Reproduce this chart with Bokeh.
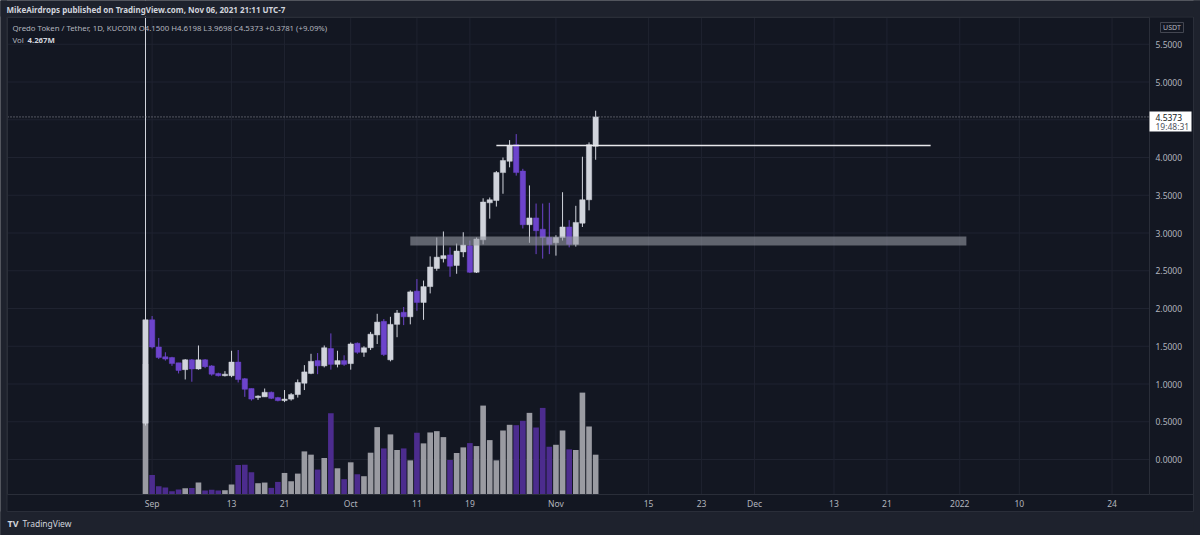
from bokeh.plotting import figure
from bokeh.models import ColumnDataSource, Range1d, Label
from bokeh.embed import file_html
from bokeh.resources import INLINE
from bokeh.core.properties import value

# ---------------- data (QRDO/USDT daily, 2021-08-31 .. 2021-11-07) ----------------
opens = [0.48, 1.85, 1.49, 1.36, 1.35, 1.28, 1.19, 1.32, 1.20, 1.32,
         1.24, 1.14, 1.11, 1.11, 1.29, 1.07, 0.94, 0.82, 0.83, 0.89,
         0.82, 0.78, 0.80, 0.86, 1.01, 1.14, 1.31, 1.24, 1.47, 1.26,
         1.31, 1.27, 1.54, 1.42, 1.48, 1.65, 1.83, 1.32, 1.79, 1.95,
         1.89, 2.23, 2.08, 2.29, 2.53, 2.66, 2.71, 2.57, 2.75, 2.83,
         2.48, 2.91, 3.40, 3.43, 3.80, 3.95, 4.17, 3.82, 3.11, 3.20,
         3.05, 2.94, 2.87, 2.94, 3.08, 2.85, 3.13, 3.44, 4.15]
highs = [8.00, 1.90, 1.61, 1.42, 1.36, 1.28, 1.33, 1.33, 1.51, 1.33,
         1.25, 1.15, 1.17, 1.44, 1.45, 1.08, 0.94, 0.85, 0.94, 0.90,
         0.83, 0.92, 0.88, 1.06, 1.25, 1.40, 1.41, 1.51, 1.67, 1.44,
         1.38, 1.55, 1.55, 1.50, 1.69, 1.93, 1.86, 1.89, 1.98, 2.02,
         2.24, 2.39, 2.37, 2.69, 2.94, 3.02, 2.81, 2.86, 3.01, 2.90,
         2.94, 3.46, 3.47, 3.82, 4.00, 4.23, 4.31, 3.85, 3.63, 3.39,
         3.39, 3.40, 2.97, 3.54, 3.17, 3.36, 4.01, 4.20, 4.6198]
lows = [0.45, 1.47, 1.33, 1.31, 1.24, 1.14, 1.06, 1.03, 1.19, 1.21,
        1.11, 1.10, 1.10, 1.09, 1.02, 0.83, 0.78, 0.79, 0.83, 0.80,
        0.77, 0.76, 0.78, 0.82, 0.92, 1.13, 1.13, 1.22, 1.19, 1.22,
        1.24, 1.19, 1.40, 1.36, 1.45, 1.53, 1.37, 1.30, 1.62, 1.78,
        1.79, 1.97, 1.85, 2.20, 2.50, 2.61, 2.42, 2.46, 2.68, 2.47,
        2.47, 2.85, 3.19, 3.35, 3.52, 3.87, 3.76, 3.06, 2.87, 2.72,
        2.66, 2.72, 2.70, 2.90, 2.81, 2.82, 3.08, 3.30, 3.9698]
closes = [1.85, 1.49, 1.35, 1.33, 1.27, 1.18, 1.32, 1.20, 1.32, 1.23,
          1.13, 1.11, 1.13, 1.29, 1.06, 0.93, 0.80, 0.84, 0.89, 0.81,
          0.78, 0.80, 0.86, 1.02, 1.16, 1.30, 1.24, 1.48, 1.26, 1.31,
          1.26, 1.53, 1.42, 1.48, 1.66, 1.82, 1.39, 1.79, 1.94, 1.89,
          2.22, 2.08, 2.29, 2.55, 2.68, 2.70, 2.56, 2.76, 2.84, 2.48,
          2.92, 3.41, 3.44, 3.80, 3.96, 4.16, 3.80, 3.11, 3.20, 3.03,
          2.94, 2.85, 2.94, 3.08, 2.85, 3.14, 3.44, 4.17, 4.5373]
volume_m = [14.0, 2.10, 0.89, 0.75, 0.36, 0.53, 0.68, 0.71, 1.28, 0.43,
            0.50, 0.43, 0.46, 1.07, 3.17, 3.20, 2.38, 1.21, 1.28, 0.71,
            1.35, 2.31, 1.42, 2.24, 4.62, 4.27, 2.67, 3.91, 8.71, 2.81,
            1.64, 3.45, 2.17, 1.96, 4.48, 7.22, 4.94, 6.44, 4.77, 4.94,
            3.66, 6.62, 5.48, 6.65, 6.79, 6.15, 3.70, 4.45, 5.05, 5.51,
            5.19, 9.53, 5.83, 3.66, 6.86, 7.47, 7.43, 7.90, 8.75, 7.18,
            9.28, 5.12, 5.33, 6.86, 4.84, 4.77, 10.92, 7.29, 4.267]

price_ticks = [0.0, 0.5, 1.0, 1.5, 2.0, 2.5, 3.0, 3.5, 4.0, 4.5, 5.0, 5.5]
# day index counted from 2021-08-31
time_tick_days = [1, 13, 21, 31, 41, 49, 62, 76, 84, 92, 104, 112, 123, 132, 146]
time_tick_labels = ["Sep", "13", "21", "Oct", "11", "19", "Nov", "15", "23",
                    "Dec", "13", "21", "2022", "10", "24"]

resistance_level = 4.16
resistance_days = (53.0, 118.6)
support_zone = (2.835, 2.955)
support_days = (40.0, 124.0)
last_price = closes[-1]

header_text = "MikeAirdrops published on TradingView.com, Nov 06, 2021 21:11 UTC-7"
legend_text = ("Qredo Token / Tether, 1D, KUCOIN O4.1500 H4.6198 L3.9698 "
               "C4.5373 +0.3781 (+9.09%)")
vol_text = "4.267M"
countdown_text = "19:48:31"
currency_text = "USDT"

# ---------------- styling / layout ----------------
FONT = "Noto Sans"
BG = "#131722"
OUTER = "#1e222d"
GRID = "#1f2330"
EDGE = "#2a2e39"
TXT = "#b2b5be"
UP_C, DN_C = "#d1d4dc", "#6d44cc"
VUP_C, VDN_C = "#9a9ba2", "#4c2c8e"

W, H = 1200, 535
PL, PR, PT, PB = 7, 1149, 17, 494        # chart pane edges (px)
AX_R, AX_B = 1193, 511                  # outer edges of price / time axis
X_ORIGIN_PX, PX_PER_DAY = 145.0, 6.62   # px of day 0, px per day
Y_ZERO_PX, PX_PER_UNIT = 459.0, 75.5    # px of price 0, px per 1.0
PX_PER_MVOL = 9.33


def dx(px):
    return (px - X_ORIGIN_PX) / PX_PER_DAY


def py(px):
    return (Y_ZERO_PX - px) / PX_PER_UNIT


n = len(opens)
day = list(range(n))
is_up = [c >= o for o, c in zip(opens, closes)]
src = ColumnDataSource(dict(
    day=day, o=opens, h=highs, l=lows, c=closes,
    top=[max(o, c) for o, c in zip(opens, closes)],
    bot=[min(o, c) for o, c in zip(opens, closes)],
    vol=volume_m,
    col=[UP_C if u else DN_C for u in is_up],
    vcol=[VUP_C if u else VDN_C for u in is_up],
))

p = figure(width=W, height=H, title=None,
           x_range=Range1d(dx(0), dx(W)), y_range=Range1d(py(H), py(0)),
           x_axis_location=None, y_axis_location=None,
           output_backend="svg", toolbar_location=None,
           min_border=0, background_fill_color=BG, border_fill_color=BG,
           outline_line_color=None)
p.grid.visible = False
p.extra_y_ranges = {"vol": Range1d((PB - H) / PX_PER_MVOL, PB / PX_PER_MVOL)}

# grid lines inside the chart pane
p.segment(x0=[dx(PL)] * len(price_ticks), x1=[dx(PR)] * len(price_ticks),
          y0=price_ticks, y1=price_ticks, line_color=GRID, line_width=1)
p.segment(x0=time_tick_days, x1=time_tick_days,
          y0=[py(PT)] * len(time_tick_days), y1=[py(PB)] * len(time_tick_days),
          line_color=GRID, line_width=1)

# volume
p.vbar(x="day", width=0.85, top="vol", bottom=0, y_range_name="vol",
       fill_color="vcol", line_color=None, source=src)
# candles
p.segment(x0="day", y0="l", x1="day", y1="h", line_color="col", line_width=1, source=src)
p.vbar(x="day", width=0.8, top="top", bottom="bot", fill_color="col",
       line_color="col", line_width=0.5, source=src)

# drawings
p.quad(left=[support_days[0]], right=[support_days[1]],
       bottom=[support_zone[0]], top=[support_zone[1]],
       fill_color="#9598a1", fill_alpha=0.6, line_color=None)
p.segment(x0=[resistance_days[0]], y0=[resistance_level],
          x1=[resistance_days[1]], y1=[resistance_level],
          line_color="#e8e8ec", line_width=1.5)
p.segment(x0=[dx(PL)], y0=[last_price], x1=[dx(PR)], y1=[last_price],
          line_color="#9598a1", line_dash="1 2", line_width=1)

# page background around the chart (covers anything leaving the pane)
p.quad(left=[dx(-5), dx(-5), dx(-5), dx(AX_R)],
       right=[dx(W + 5), dx(W + 5), dx(PL - 0.5), dx(W + 5)],
       top=[py(-5), py(AX_B), py(-5), py(-5)],
       bottom=[py(PT - 1), py(H + 5), py(H + 5), py(H + 5)],
       fill_color=OUTER, line_color=None)
# pane / axis borders
p.quad(left=[dx(PL)], right=[dx(PR)], top=[py(PT)], bottom=[py(PB)],
       fill_alpha=0, line_color=EDGE, line_width=1)
p.quad(left=[dx(PL - 0.5)], right=[dx(AX_R)], top=[py(PT - 0.5)], bottom=[py(AX_B)],
       fill_alpha=0, line_color=EDGE, line_width=1)
p.segment(x0=[dx(PR)], y0=[py(PB)], x1=[dx(AX_R)], y1=[py(PB)],
          line_color=EDGE, line_width=1)

# price axis labels
p.text(x=[dx(PR + 6)] * len(price_ticks), y=price_ticks,
       text=[f"{t:.4f}" for t in price_ticks],
       text_font=value(FONT), text_font_size="8.5px", text_color=TXT,
       text_align="left", text_baseline="middle")
# time axis labels
p.text(x=time_tick_days, y=[py(503)] * len(time_tick_days), text=time_tick_labels,
       text_font=value(FONT), text_font_size="8.5px", text_color=TXT,
       text_align="center", text_baseline="middle")

# price tag on the axis
p.quad(left=[dx(PR)], right=[dx(1191)], top=[py(111)], bottom=[py(131)],
       fill_color="white", line_color=None)
p.add_layout(Label(x=dx(PR + 6), y=py(116.5), text=f"{last_price:.4f}", text_font=FONT,
                   text_font_size="8.5px", text_color="#131722", text_baseline="middle"))
p.add_layout(Label(x=dx(PR + 6), y=py(125.5), text=countdown_text, text_font=FONT,
                   text_font_size="8.5px", text_color="#50535e", text_baseline="middle"))

# currency tag
p.quad(left=[dx(1160)], right=[dx(1183)], top=[py(22)], bottom=[py(32)],
       fill_alpha=0, line_color="#434651", line_width=1)
p.add_layout(Label(x=dx(1171.5), y=py(27), text=currency_text, text_font=FONT,
                   text_font_size="7px", text_color=TXT, text_align="center",
                   text_baseline="middle"))

# header / legend
p.add_layout(Label(x=dx(6), y=py(8.5), text=header_text, text_font=FONT,
                   text_font_size="8px", text_font_style="bold",
                   text_color="#d1d4dc", text_baseline="middle"))
p.add_layout(Label(x=dx(12), y=py(27.5), text=legend_text, text_font=FONT,
                   text_font_size="7.8px", text_color=TXT, text_baseline="middle"))
p.add_layout(Label(x=dx(12), y=py(39.5), text="Vol", text_font=FONT,
                   text_font_size="7.8px", text_color=TXT, text_baseline="middle"))
p.add_layout(Label(x=dx(27), y=py(39.5), text=vol_text, text_font=FONT,
                   text_font_size="7.8px", text_font_style="bold",
                   text_color="#d1d4dc", text_baseline="middle"))

# footer
p.add_layout(Label(x=dx(7), y=py(523), text="TV", text_font=FONT,
                   text_font_size="9px", text_font_style="bold",
                   text_color="#d1d4dc", text_baseline="middle"))
p.add_layout(Label(x=dx(22), y=py(523), text="TradingView", text_font=FONT,
                   text_font_size="8.5px", text_color="#d1d4dc", text_baseline="middle"))

open("out.html", "w").write(file_html(p, INLINE))
